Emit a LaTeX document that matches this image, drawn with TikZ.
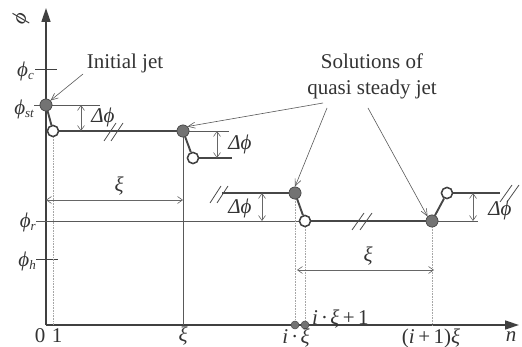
\documentclass[tikz,border=0pt]{standalone}
\usepackage{fontspec}
\setmainfont{Liberation Serif}
\usetikzlibrary{arrows.meta}
\newcommand\lvsub[1]{\raisebox{-0.35ex}{\fontsize{13}{14}\selectfont\itshape #1}}
\begin{document}
\begin{tikzpicture}[x=1pt,y=-1pt,
  axisline/.style={line width=1.6pt, draw=black!75, -{Triangle[length=14pt,width=9pt]}},
  tickline/.style={line width=1pt, draw=black!75},
  thinline/.style={line width=0.8pt, draw=black!65},
  thickline/.style={line width=1.9pt, draw=black!72},
  fdot/.style={circle, fill=black!55, draw=black!70, line width=0.6pt, minimum size=12pt, inner sep=0pt},
  odot/.style={circle, fill=white, draw=black!75, line width=1.4pt, minimum size=11pt, inner sep=0pt},
  adot/.style={circle, fill=black!55, draw=black!70, line width=0.5pt, minimum size=8pt, inner sep=0pt},
  guide/.style={densely dotted, draw=black!35, line width=0.6pt},
  dimarrow/.style={draw=black!60, line width=0.6pt, {Straight Barb[length=5pt,width=7pt]}-{Straight Barb[length=5pt,width=7pt]}},
  pointer/.style={draw=black!65, line width=0.6pt, -{Straight Barb[length=7pt,width=6pt]}},
  lbl/.style={text=black!80, font=\fontsize{21}{26}\selectfont, inner sep=0pt},
  mlbl/.style={text=black!80, font=\fontsize{21}{24}\selectfont\itshape, inner sep=0pt},
  brk/.style={line width=0.8pt, draw=black!70}
]
\useasboundingbox (0,0) rectangle (522,347);

% axes
\coordinate (O) at (46,325);
\coordinate (Ytop) at (46,8);
\coordinate (Xend) at (519,325);
\draw[axisline] (O) -- (Ytop);
\draw[axisline] (O) -- (Xend);
\node[mlbl, rotate=70] (phiax) at (21,19) {ϕ};
\node[mlbl] (nlab) at (511,337) {n};

% level ticks
\coordinate (tc1) at (35,70); \coordinate (tc2) at (57,70);
\draw[tickline] (tc1) -- (tc2);
\node[mlbl, anchor=east] (phic) at (34,71) {ϕ\lvsub{c}};
\coordinate (tst1) at (34,105); \coordinate (tst2) at (100,105);
\draw[thinline] (tst1) -- (tst2);
\node[mlbl, anchor=east] (phist) at (34,109) {ϕ\lvsub{st}};
\coordinate (tr1) at (36,221); \coordinate (tr2) at (478,221);
\draw[thinline] (tr1) -- (tr2);
\node[mlbl, anchor=east] (phir) at (36,222) {ϕ\lvsub{r}};
\coordinate (th1) at (36,260); \coordinate (th2) at (58,260);
\draw[tickline] (th1) -- (th2);
\node[mlbl, anchor=east] (phih) at (36,261) {ϕ\lvsub{h}};

% guides
\coordinate (g1a) at (53,137); \coordinate (g1b) at (53,325);
\draw[guide] (g1a) -- (g1b);
\coordinate (g3a) at (295,199); \coordinate (g3b) at (295,325);
\draw[guide] (g3a) -- (g3b);
\coordinate (g4a) at (305,227); \coordinate (g4b) at (305,325);
\draw[guide] (g4a) -- (g4b);
\coordinate (g5a) at (432,227); \coordinate (g5b) at (432,325);
\draw[guide] (g5a) -- (g5b);
\coordinate (v2a) at (183,131); \coordinate (v2b) at (183,325);
\draw[thinline, line width=0.6pt] (v2a) -- (v2b);

% group 1 and 2
\node[odot] (O1) at (53,131) {};
\node[fdot] (A2) at (183,131) {};
\node[odot] (O2) at (193,158) {};
\coordinate (e2) at (232,158);
\coordinate (t2) at (229,131);
\draw[thickline] (O1) -- (A2);
\draw[thinline] (A2.east) -- (t2);
\draw[thickline] (A2) -- (O2);
\draw[thickline] (O2) -- (e2);
\node[fdot] (A1) at (46,105) {};
\draw[thickline] (A1) -- (O1);
\node[odot] at (O1) {};
\node[odot] at (O2) {};
\node[fdot] at (A2) {};
\node[fdot] at (A1) {};

% break marks group1
\coordinate (b1a) at (104,141); \coordinate (b1b) at (116,123);
\coordinate (b1c) at (111,141); \coordinate (b1d) at (123,123);
\draw[brk] (b1a) -- (b1b);
\draw[brk] (b1c) -- (b1d);

% delta phi 1, 2
\coordinate (d1a) at (81,105); \coordinate (d1b) at (81,131);
\draw[dimarrow] (d1a) -- (d1b);
\node[mlbl] (dl1) at (103,117) {Δϕ};
\coordinate (d2a) at (217,131); \coordinate (d2b) at (217,158);
\draw[dimarrow] (d2a) -- (d2b);
\node[mlbl] (dl2) at (240,144) {Δϕ};

% xi arrow 1
\coordinate (x1a) at (46,200); \coordinate (x1b) at (183,200);
\draw[dimarrow] (x1a) -- (x1b);
\node[mlbl] (xi1) at (119,186) {ξ};

% group 3 and 4
\coordinate (s3) at (222,193);
\node[fdot] (A3) at (295,193) {};
\node[odot] (O3) at (305,221) {};
\node[fdot] (A4) at (432,221) {};
\node[odot] (O4) at (447,193) {};
\coordinate (e4) at (500,193);
\draw[thickline] (s3) -- (A3);
\draw[thickline] (A3) -- (O3);
\draw[thickline] (O3) -- (A4);
\draw[thickline] (A4) -- (O4);
\draw[thickline] (O4) -- (e4);
\node[odot] at (O3) {};
\node[odot] at (O4) {};
\node[fdot] at (A3) {};
\node[fdot] at (A4) {};

% break marks
\coordinate (b3a) at (210,203); \coordinate (b3b) at (221,186);
\coordinate (b3c) at (217,203); \coordinate (b3d) at (228,186);
\draw[brk] (b3a) -- (b3b);
\draw[brk] (b3c) -- (b3d);
\coordinate (b4a) at (352,230); \coordinate (b4b) at (364,213);
\coordinate (b4c) at (360,230); \coordinate (b4d) at (372,213);
\draw[brk] (b4a) -- (b4b);
\draw[brk] (b4c) -- (b4d);
\coordinate (b5a) at (500,202); \coordinate (b5b) at (512,185);
\coordinate (b5c) at (507,202); \coordinate (b5d) at (519,185);
\draw[brk] (b5a) -- (b5b);
\draw[brk] (b5c) -- (b5d);

% delta phi 3, 4
\coordinate (d3a) at (262,193); \coordinate (d3b) at (262,221);
\draw[dimarrow] (d3a) -- (d3b);
\node[mlbl] (dl3) at (240,208) {Δϕ};
\coordinate (d4a) at (473,193); \coordinate (d4b) at (473,221);
\draw[dimarrow] (d4a) -- (d4b);
\node[mlbl] (dl4) at (500,210) {Δϕ};

% xi arrow 2
\coordinate (x2a) at (297,270); \coordinate (x2b) at (434,270);
\draw[dimarrow] (x2a) -- (x2b);
\node[mlbl] (xi2) at (368,256) {ξ};

% axis dots
\node[adot] (P1) at (295,325) {};
\node[adot] (P2) at (305,325) {};

% axis labels
\node[lbl] (l0) at (40,336) {0};
\node[lbl] (l1) at (57,336) {1};
\node[mlbl] (lxi) at (183,336) {ξ};
\node[mlbl] (lixi) at (296,338) {i\,·\,ξ};
\node[mlbl, anchor=west] (lixi1) at (312,319) {i\,·\,ξ\,\upshape+\,1};
\node[mlbl] (li1xi) at (431,338) {\upshape(\itshape i\,\upshape+\,1)\itshape ξ};

% callouts
\node[lbl] (init) at (125,63) {Initial jet};
\coordinate (ip) at (83,74);
\draw[pointer] (ip) -- (A1.north east);
\node[lbl, align=center] (sol) at (372,76) {Solutions of\\quasi steady jet};
\coordinate (sp1) at (323,103);
\coordinate (sp2) at (327,108);
\coordinate (sp3) at (368,108);
\draw[pointer] (sp1) -- (A2.north east);
\draw[pointer] (sp2) -- (A3.north);
\draw[pointer] (sp3) -- (A4.north west);
\end{tikzpicture}
\end{document}
